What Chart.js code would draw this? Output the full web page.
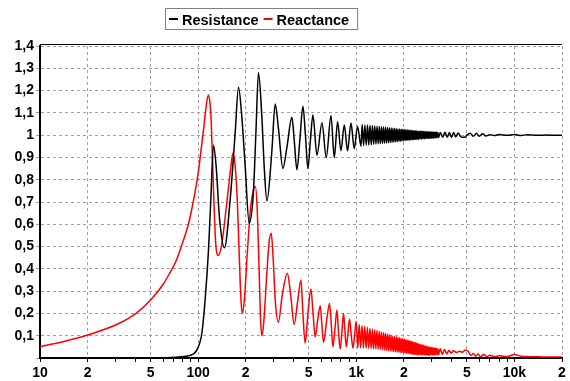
<!DOCTYPE html>
<html>
<head>
<meta charset="utf-8">
<script src="https://cdn.jsdelivr.net/npm/chart.js@4.4.0/dist/chart.umd.min.js"></script>
<style>
  html, body { margin: 0; padding: 0; background: #fff; }
  canvas { display: block; }
</style>
</head>
<body>
<canvas id="graph" width="570" height="381"></canvas>
<script>
// Series names
var seriesNames = ['Resistance', 'Reactance'];

// Resistance (black) - frequency in Hz
var resFreq = [10, 60, 75, 89, 98, 105.5, 110.7, 116.2, 120.3, 125, 130, 136.4, 146.7, 159.4, 171.5, 180, 189, 198.4, 210.3, 223.9,
    231.9, 240.8, 253, 261.6, 272.2, 292.7, 307.1, 322, 343.6, 365, 391.7, 405, 421.4, 440, 459.9, 477, 494.6, 512, 531.9, 564,
    607, 646, 692, 726, 762, 800, 840, 881, 926, 971, 1019, 1071,
    1090, 1112, 1134, 1156, 1178, 1200, 1222, 1244, 1266, 1288, 1310, 1332, 1354, 1376, 1398, 1420, 1442, 1464, 1486, 1508,
    1530, 1552, 1574, 1596, 1618, 1640, 1662, 1684, 1706, 1728, 1750, 1772, 1794, 1816, 1838, 1860, 1882, 1904, 1926, 1948,
    1970, 1992, 2014, 2036, 2058, 2080, 2102, 2124, 2146, 2168, 2190, 2212, 2234, 2256, 2278, 2300, 2322, 2344, 2366, 2388,
    2410, 2432, 2454, 2476, 2498, 2526, 2554, 2582, 2610, 2638, 2666, 2694, 2722, 2750, 2778, 2806, 2834, 2862, 2890, 2918,
    2946, 2974, 3002, 3030, 3058, 3086, 3114, 3142, 3170, 3198, 3226, 3254, 3282, 3310,
    3400, 3520, 3640, 3760, 3880, 4000, 4130, 4260, 4400, 4550, 4700, 4850, 5000, 5250,
    5500, 5750, 6000, 6300, 6600, 7000, 7500, 8000, 9000, 10000, 11000, 12000, 14000, 16000, 18000, 20000];
var resValue = [0, 0, 0.005, 0.012, 0.035, 0.11, 0.26, 0.48, 0.71, 0.955, 0.86, 0.63, 0.495, 0.71, 1.01, 1.215, 1.08, 0.86, 0.605, 0.75,
    1.01, 1.28, 1.08, 0.86, 0.705, 0.93, 1.14, 1.03, 0.85, 0.95, 1.08, 0.98, 0.845, 0.98, 1.13, 1.0, 0.85, 0.97, 1.09, 0.91,
    1.055, 0.90, 1.087, 0.90, 1.06, 0.93, 1.046, 0.93, 1.054, 0.94, 1.04, 0.95,
    1.048, 0.953, 1.046, 0.955, 1.045, 0.956, 1.044, 0.957, 1.043, 0.959, 1.041, 0.960, 1.040, 0.961, 1.039, 0.962, 1.038, 0.963, 1.037, 0.964,
    1.035, 0.965, 1.034, 0.966, 1.033, 0.967, 1.032, 0.968, 1.031, 0.969, 1.030, 0.970, 1.029, 0.971, 1.028, 0.972, 1.028, 0.973, 1.027, 0.974,
    1.026, 0.975, 1.025, 0.976, 1.024, 0.977, 1.023, 0.977, 1.022, 0.978, 1.022, 0.979, 1.021, 0.979, 1.020, 0.980, 1.020, 0.981, 1.019, 0.981,
    1.019, 0.982, 1.018, 0.982, 1.018, 0.983, 1.017, 0.983, 1.017, 0.984, 1.016, 0.984, 1.016, 0.985, 1.015, 0.985, 1.015, 0.986, 1.015, 0.986,
    1.014, 0.986, 1.014, 0.987, 1.014, 0.987, 1.013, 0.988, 1.013, 0.988, 1.013, 0.989, 1.012, 0.989,
    1.012, 0.99, 1.013, 0.99, 1.012, 0.99, 1.012, 0.992, 1.01, 0.995, 0.99, 0.99, 1.0, 1.008,
    0.995, 1.008, 0.995, 1.006, 0.996, 1.002, 0.998, 1.003, 0.999, 1.003, 0.998, 1.002, 0.999, 1.001, 0.999, 1.0];

// Reactance (red)
var reaFreq = [10, 13.9, 20, 31.8, 40.5, 50, 60, 66, 72.5, 80, 86, 92.5, 97, 101, 105, 108, 112, 116, 119, 121,
    125, 129, 134, 141, 152, 160, 166, 172, 177, 182, 186, 190, 196, 205, 215, 223, 230, 236, 243, 248,
    253, 260, 272, 281, 290, 298, 308, 322, 340, 367, 385, 405, 425, 447, 460, 475, 495, 517, 533, 550,
    570, 592, 606, 621, 650, 678, 695, 712, 735, 755, 772, 792, 812, 831, 848, 864, 886, 907, 930, 953,
    976, 1000,
    1022, 1044, 1066, 1088, 1110, 1132, 1154, 1176, 1198, 1220, 1242, 1264, 1286, 1308, 1330, 1352, 1374, 1396, 1418, 1440,
    1462, 1484, 1506, 1528, 1550, 1572, 1594, 1616, 1638, 1660, 1682, 1704, 1726, 1748, 1770, 1792, 1814, 1836, 1858, 1880,
    1902, 1924, 1946, 1968, 1990, 2012, 2034, 2056, 2078, 2100, 2122, 2144, 2166, 2188, 2210, 2232, 2254, 2276, 2298, 2320,
    2342, 2364, 2386, 2408, 2430, 2452, 2474, 2496, 2524, 2552, 2580, 2608, 2636, 2664, 2692, 2720, 2748, 2776, 2804, 2832,
    2860, 2888, 2916, 2944, 2972, 3000, 3028, 3056, 3084, 3112, 3140, 3168, 3196, 3224, 3252, 3280, 3308,
    3400, 3500, 3620, 3740, 3860, 3980, 4120, 4300, 4500, 4700, 4900, 5100,
    5300, 5500, 5700, 5900, 6100, 6400, 6700, 7000, 7500, 8000, 9000, 10000, 11000, 12500, 15000, 20000];
var reaValue = [0.051, 0.073, 0.103, 0.156, 0.20, 0.26, 0.33, 0.38, 0.435, 0.52, 0.59, 0.69, 0.77, 0.85, 0.95, 1.02, 1.12, 1.18, 1.14, 1.06,
    0.76, 0.52, 0.46, 0.51, 0.70, 0.84, 0.92, 0.85, 0.70, 0.46, 0.28, 0.20, 0.26, 0.48, 0.68, 0.75, 0.77, 0.68, 0.40, 0.18,
    0.10, 0.16, 0.38, 0.52, 0.56, 0.45, 0.25, 0.16, 0.28, 0.38, 0.28, 0.15, 0.25, 0.35, 0.2, 0.067, 0.2, 0.31, 0.2, 0.095,
    0.17, 0.235, 0.15, 0.07, 0.17, 0.245, 0.15, 0.05, 0.14, 0.215, 0.12, 0.04, 0.12, 0.2, 0.12, 0.05, 0.11, 0.175, 0.1, 0.045,
    0.1, 0.165,
    0.045, 0.150, 0.046, 0.145, 0.045, 0.142, 0.044, 0.138, 0.043, 0.134, 0.042, 0.130, 0.041, 0.127, 0.040, 0.124, 0.039, 0.120, 0.038, 0.117,
    0.037, 0.114, 0.035, 0.111, 0.034, 0.108, 0.032, 0.105, 0.031, 0.102, 0.030, 0.099, 0.029, 0.097, 0.028, 0.095, 0.027, 0.093, 0.026, 0.091,
    0.025, 0.089, 0.024, 0.087, 0.023, 0.085, 0.022, 0.083, 0.021, 0.081, 0.020, 0.079, 0.019, 0.077, 0.018, 0.075, 0.017, 0.073, 0.016, 0.071,
    0.016, 0.069, 0.015, 0.067, 0.015, 0.065, 0.014, 0.063, 0.014, 0.061, 0.014, 0.059, 0.013, 0.057, 0.013, 0.055, 0.013, 0.053, 0.013, 0.051,
    0.013, 0.049, 0.013, 0.048, 0.013, 0.047, 0.014, 0.046, 0.014, 0.045, 0.014, 0.044, 0.015, 0.043, 0.015, 0.042, 0.015,
    0.041, 0.016, 0.038, 0.018, 0.035, 0.022, 0.032, 0.025, 0.03, 0.026, 0.036, 0.03,
    0.012, 0.02, 0.008, 0.018, 0.006, 0.016, 0.006, 0.012, 0.006, 0.01, 0.006, 0.016, 0.008, 0.006, 0.005, 0.004];

// Tick labels on the frequency axis
var xTickValues = [10, 20, 50, 100, 200, 500, 1000, 2000, 5000, 10000, 20000];
var xTickLabels = ['10', '2', '5', '100', '2', '5', '1k', '2', '5', '10k', '2'];

function toPoints(xs, ys) {
    return xs.map(function(x, i) { return {x: x, y: ys[i]}; });
}

// minor ticks 1..9 per decade
var allXTicks = [];
[10, 100, 1000, 10000].forEach(function(d) {
    for (var m = 1; m <= 9; m++) {
        if (d * m <= 20000) allXTicks.push(d * m);
    }
});

var gridColor = '#a0a0a0';
Chart.defaults.font.family = '"Liberation Sans", Arial, sans-serif';
Chart.defaults.color = '#000';

// legend in a box, and the black line on top of the plot
var boxLegend = {
    id: 'boxLegend',
    afterDraw: function(chart) {
        var ctx = chart.ctx;
        var area = chart.chartArea;
        ctx.save();
        ctx.strokeStyle = '#000';
        ctx.lineWidth = 1;
        ctx.beginPath();
        ctx.moveTo(area.left, area.top - 1.5);
        ctx.lineTo(area.right, area.top - 1.5);
        ctx.stroke();

        ctx.font = 'bold 14.5px "Liberation Sans", Arial, sans-serif';
        var lineW = 9, gap = 4, sep = 5, pad = 3;
        var items = chart.data.datasets.map(function(ds) {
            return {text: ds.label, color: ds.borderColor, w: ctx.measureText(ds.label).width};
        });
        var total = pad;
        items.forEach(function(it, i) { total += lineW + gap + it.w + (i < items.length - 1 ? sep : pad); });
        var x0 = Math.round(261 - (total + 6) / 2);
        ctx.strokeStyle = '#808080';
        ctx.strokeRect(x0 + 0.5, 8.5, total + 6, 21);
        var x = x0 + pad + 1;
        ctx.textBaseline = 'alphabetic';
        items.forEach(function(it) {
            ctx.fillStyle = it.color;
            ctx.fillRect(x, 18, lineW, 2);
            x += lineW + gap;
            ctx.fillStyle = '#000';
            ctx.fillText(it.text, x, 25);
            x += it.w + sep;
        });
        ctx.restore();
    }
};

var ctx = document.getElementById('graph').getContext('2d');
var chart = new Chart(ctx, {
    type: 'line',
    data: {
        datasets: [{
            label: seriesNames[0],
            data: toPoints(resFreq, resValue),
            borderColor: '#000000',
            borderWidth: 1.5,
            pointRadius: 0,
            cubicInterpolationMode: 'monotone',
            fill: false
        }, {
            label: seriesNames[1],
            data: toPoints(reaFreq, reaValue),
            borderColor: '#ff0000',
            borderWidth: 1.5,
            pointRadius: 0,
            cubicInterpolationMode: 'monotone',
            fill: false
        }]
    },
    options: {
        responsive: false,
        animation: false,
        layout: { padding: { top: 46, right: 8, left: 0, bottom: 0 } },
        plugins: {
            legend: { display: false },
            tooltip: { enabled: false }
        },
        scales: {
            x: {
                type: 'logarithmic',
                min: 10,
                max: 20000,
                afterBuildTicks: function(scale) {
                    scale.ticks = allXTicks.map(function(v) { return {value: v}; });
                },
                afterFit: function(scale) { scale.height = 23; },
                ticks: {
                    autoSkip: false,
                    maxRotation: 0,
                    padding: 3,
                    font: { size: 14, weight: 'bold' },
                    callback: function(value) {
                        var i = xTickValues.indexOf(value);
                        return i >= 0 ? xTickLabels[i] : '';
                    }
                },
                grid: {
                    color: function(c) {
                        return c.tick && xTickValues.indexOf(c.tick.value) >= 0 ? gridColor : 'rgba(0,0,0,0)';
                    },
                    tickColor: '#000',
                    tickLength: 4,
                    lineWidth: 1
                },
                border: { color: '#000', width: 2, dash: [3, 3] }
            },
            y: {
                min: 0,
                max: 1.4,
                afterFit: function(scale) { scale.width = 40; },
                ticks: {
                    stepSize: 0.1,
                    padding: 2,
                    font: { size: 14, weight: 'bold' },
                    callback: function(value) {
                        var v = Math.round(value * 10) / 10;
                        if (v === 0) return '';
                        return String(v).replace('.', ',');
                    }
                },
                grid: {
                    color: gridColor,
                    tickColor: gridColor,
                    tickLength: 4,
                    lineWidth: 1
                },
                border: { color: '#000', width: 2, dash: [3, 3] }
            }
        }
    },
    plugins: [boxLegend]
});
</script>
</body>
</html>
